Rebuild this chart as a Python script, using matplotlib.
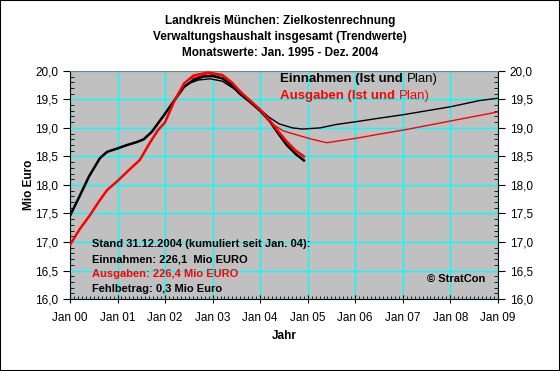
import matplotlib
matplotlib.use("Agg")
import matplotlib.pyplot as plt
from matplotlib.ticker import MultipleLocator, FuncFormatter

plt.rcParams['font.family'] = ['Liberation Sans', 'DejaVu Sans']

# Jahre seit Jan 2000
ein_ist_t = [0, 0.2, 0.4, 0.63, 0.78, 1.0, 1.2, 1.4, 1.55, 1.72, 2.0, 2.21, 2.4, 2.6, 2.8,
             3.0, 3.2, 3.4, 3.57, 3.78, 4.0, 4.2, 4.4, 4.56, 4.75, 4.92]
ein_ist = [17.46, 17.8, 18.15, 18.47, 18.58, 18.64, 18.70, 18.75, 18.80, 18.93, 19.25, 19.5,
           19.72, 19.84, 19.90, 19.91, 19.87, 19.75, 19.6, 19.46, 19.3, 19.12, 18.88, 18.70,
           18.54, 18.43]

aus_ist_t = [0, 0.2, 0.42, 0.6, 0.78, 1.0, 1.2, 1.47, 1.68, 1.85, 2.0, 2.21, 2.4, 2.6, 2.9,
             3.2, 3.4, 3.6, 3.8, 4.0, 4.2, 4.4, 4.56, 4.75, 4.92]
aus_ist = [16.95, 17.22, 17.47, 17.70, 17.91, 18.07, 18.23, 18.44, 18.74, 18.96, 19.1, 19.5,
           19.78, 19.92, 19.97, 19.93, 19.8, 19.62, 19.47, 19.32, 19.13, 18.92, 18.76, 18.60,
           18.50]

ein_plan_t = [2.5, 2.7, 2.95, 3.2, 3.5, 3.8, 4.0, 4.2, 4.4, 4.68, 4.9, 5.26, 5.6, 6.03, 6.5,
              7.0, 7.5, 8.0, 8.62, 9.0]
ein_plan = [19.78, 19.84, 19.86, 19.82, 19.66, 19.47, 19.32, 19.18, 19.07, 19.0, 18.98, 19.0,
            19.06, 19.11, 19.17, 19.23, 19.30, 19.37, 19.48, 19.52]

aus_plan_t = [2.5, 2.9, 3.2, 3.5, 3.8, 4.0, 4.27, 4.48, 4.84, 5.1, 5.4, 6.03, 6.5, 7.0, 7.5,
              8.0, 8.5, 9.0]
aus_plan = [19.85, 19.95, 19.92, 19.7, 19.47, 19.32, 19.06, 18.95, 18.86, 18.80, 18.74, 18.82,
            18.89, 18.96, 19.04, 19.12, 19.2, 19.28]

jahre = ["Jan 00", "Jan 01", "Jan 02", "Jan 03", "Jan 04", "Jan 05", "Jan 06", "Jan 07",
         "Jan 08", "Jan 09"]

fig = plt.figure(figsize=(5.6, 3.71), dpi=100)
fig.patch.set_facecolor("white")
fig.add_artist(plt.Rectangle((0, 0), 1, 1, transform=fig.transFigure, fill=False,
                             edgecolor="black", linewidth=1.5))

ax = fig.add_axes([0.125, 0.194, 0.764, 0.615])
ax.set_facecolor("#C0C0C0")

ax.plot(ein_plan_t, ein_plan, color="black", lw=1.0, zorder=3)
ax.plot(aus_plan_t, aus_plan, color="red", lw=1.0, zorder=3)
ax.plot(ein_ist_t, ein_ist, color="black", lw=1.8, zorder=4)
ax.plot(aus_ist_t, aus_ist, color="red", lw=1.8, zorder=5)

ax.set_xlim(0, 9)
ax.set_ylim(16, 20)
ax.set_xticks(range(10))
ax.set_xticklabels(jahre)
ax.xaxis.set_minor_locator(MultipleLocator(1 / 12))
ax.yaxis.set_major_locator(MultipleLocator(0.5))
ax.yaxis.set_minor_locator(MultipleLocator(0.1))
fmt = FuncFormatter(lambda v, p: ("%.1f" % v).replace(".", ","))
ax.yaxis.set_major_formatter(fmt)
ax.grid(True, which="major", color="#00FFFF", lw=1.0, zorder=1)
ax.set_axisbelow(True)

ax.tick_params(axis="x", which="major", direction="inout", length=6, labelsize=8.5, pad=6)
ax.tick_params(axis="x", which="minor", direction="in", length=2)
ax.tick_params(axis="y", which="major", direction="out", length=5, labelsize=8.5,
               left=True, right=True, labelright=True)
ax.tick_params(axis="y", which="minor", direction="in", length=3, left=True, right=True)

for s in ["left", "bottom", "right"]:
    ax.spines[s].set_color("black")
ax.spines["top"].set_color("#808080")

ax.set_xlabel("Jahr", fontsize=8.5, fontweight="bold", labelpad=5)
ax.set_ylabel("Mio Euro", fontsize=8.5, fontweight="bold", labelpad=0)

fig.text(0.5, 0.943, "Landkreis München: Zielkostenrechnung", ha="center", va="center",
         fontsize=8.5, fontweight="bold")
fig.text(0.5, 0.900, "Verwaltungshaushalt insgesamt (Trendwerte)", ha="center", va="center",
         fontsize=8.5, fontweight="bold")
fig.text(0.5, 0.858, "Monatswerte: Jan. 1995 - Dez. 2004", ha="center", va="center",
         fontsize=8.5, fontweight="bold")

# Legende als Text
t1 = ax.text(4.42, 19.85, "Einnahmen (Ist und ", fontsize=9.5, fontweight="bold",
             color="black", va="center")
ax.annotate("Plan)", xycoords=t1, xy=(1, 0.5), va="center", fontsize=9.5, color="black")
t2 = ax.text(4.42, 19.56, "Ausgaben (Ist und ", fontsize=9.5, fontweight="bold",
             color="red", va="center")
ax.annotate("Plan)", xycoords=t2, xy=(1, 0.5), va="center", fontsize=9.5, color="red")

ax.text(0.47, 16.96, "Stand 31.12.2004 (kumuliert seit Jan. 04):", fontsize=8,
        fontweight="bold", va="center")
ax.text(0.47, 16.70, "Einnahmen: 226,1  Mio EURO", fontsize=8, fontweight="bold", va="center")
ax.text(0.47, 16.44, "Ausgaben: 226,4 Mio EURO", fontsize=8, fontweight="bold", va="center",
        color="red")
ax.text(0.47, 16.17, "Fehlbetrag: 0,3 Mio Euro", fontsize=8, fontweight="bold", va="center")
ax.text(7.5, 16.35, "© StratCon", fontsize=8, fontweight="bold", va="center")

fig.savefig("out.png", dpi=100)
